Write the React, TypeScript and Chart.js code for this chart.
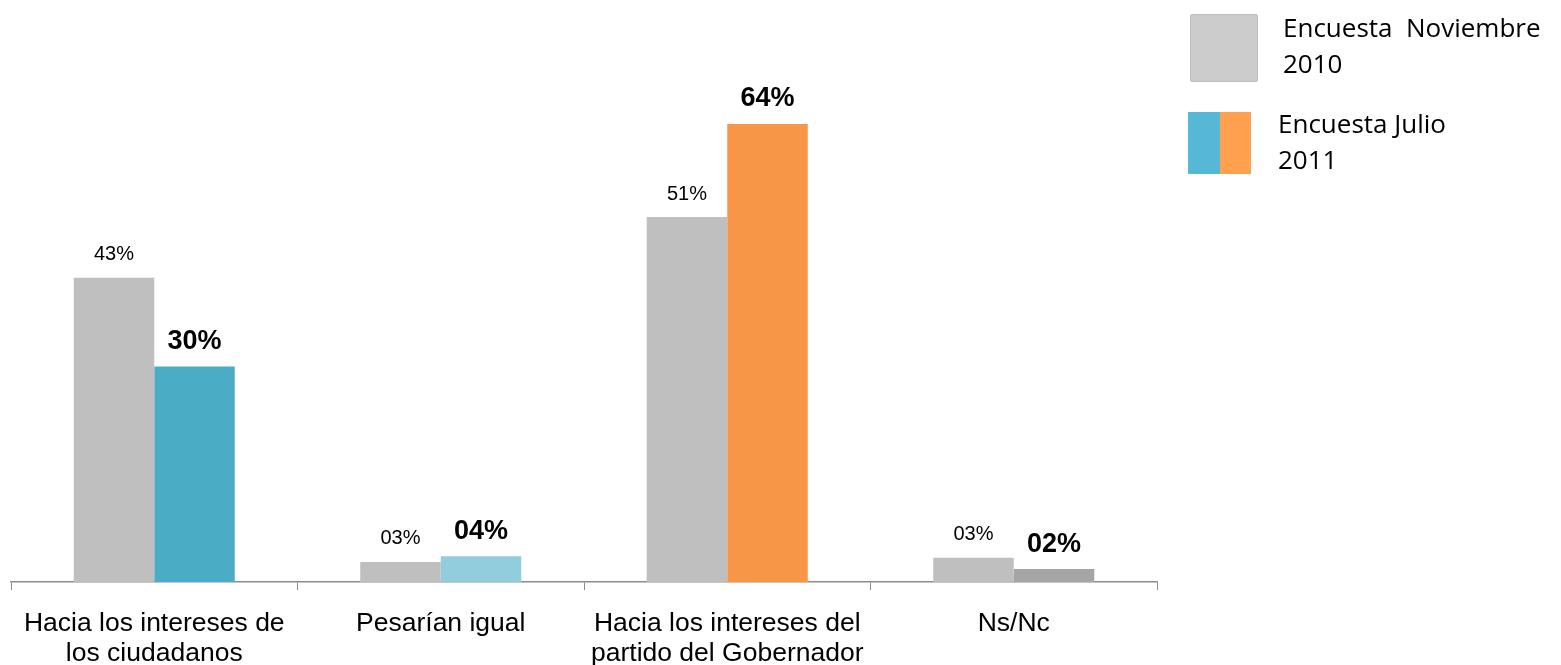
import React, { useEffect, useRef } from "react";
import { Chart, registerables } from "chart.js";

Chart.register(...registerables);

const categories: string[][] = [
  ["Hacia los intereses de", "los ciudadanos"],
  ["Pesarían igual"],
  ["Hacia los intereses del", "partido del Gobernador"],
  ["Ns/Nc"],
];
const nov2010Values = [42.5, 2.8, 51, 3.4];
const jul2011Values = [30.1, 3.6, 64, 1.8];
const nov2010Labels = ["43%", "03%", "51%", "03%"];
const jul2011Labels = ["30%", "04%", "64%", "02%"];
const jul2011Colors = ["#4BACC6", "#92CDDC", "#F79646", "#A5A5A5"];
const legendNov = ["Encuesta  Noviembre", "2010"];
const legendJul = ["Encuesta Julio", "2011"];

const FONT = "'Liberation Sans', Arial, sans-serif";

const labelPlugin = {
  id: "barLabels",
  afterDatasetsDraw(chart: any) {
    const ctx = chart.ctx;
    ctx.save();
    ctx.textAlign = "center";
    ctx.textBaseline = "middle";
    chart.data.datasets.forEach((ds: any, di: number) => {
      const meta = chart.getDatasetMeta(di);
      meta.data.forEach((bar: any, i: number) => {
        if (di === 0) {
          ctx.font = `20px ${FONT}`;
          ctx.fillStyle = "#000";
          ctx.fillText(nov2010Labels[i], bar.x, bar.y - 23);
        } else {
          ctx.font = `bold 27px ${FONT}`;
          ctx.fillStyle = "#000";
          ctx.fillText(jul2011Labels[i], bar.x, bar.y - 25);
        }
      });
    });
    ctx.restore();
  },
};

export default function App() {
  const ref = useRef<HTMLCanvasElement>(null);
  useEffect(() => {
    const chart = new Chart(ref.current!, {
      type: "bar",
      data: {
        labels: categories,
        datasets: [
          {
            label: "Encuesta Noviembre 2010",
            data: nov2010Values,
            backgroundColor: "#BFBFBF",
            categoryPercentage: 0.562,
            barPercentage: 1,
          },
          {
            label: "Encuesta Julio 2011",
            data: jul2011Values,
            backgroundColor: jul2011Colors,
            categoryPercentage: 0.562,
            barPercentage: 1,
          },
        ],
      },
      options: {
        animation: false,
        responsive: false,
        maintainAspectRatio: false,
        layout: { padding: { left: 11, right: 404, top: 81, bottom: -23 } },
        plugins: { legend: { display: false }, tooltip: { enabled: false } },
        scales: {
          y: { display: false, min: 0, max: 70 },
          x: {
            grid: {
              offset: true,
              drawOnChartArea: false,
              drawTicks: true,
              tickLength: 8,
              color: "#8C8C8C",
            },
            border: { color: "#8C8C8C", width: 1.5 },
            ticks: {
              color: "#000",
              padding: 19,
              font: { family: FONT, size: 26.5, lineHeight: "30px" },
              maxRotation: 0,
              autoSkip: false,
            },
          },
        },
      },
      plugins: [labelPlugin],
    });
    return () => chart.destroy();
  }, []);

  const legText: React.CSSProperties = {
    position: "absolute",
    fontFamily: "'Open Sans', 'Noto Sans', sans-serif",
    fontSize: 26,
    lineHeight: "36px",
    color: "#000",
    whiteSpace: "pre",
  };

  return (
    <div style={{ position: "absolute", left: 0, top: 0, width: 1561, height: 665, background: "#fff" }}>
      <canvas ref={ref} width={1561} height={665} style={{ position: "absolute", left: 0, top: 0 }} />
      <div
        style={{
          position: "absolute",
          left: 1190,
          top: 14,
          width: 66,
          height: 66,
          background: "#CCCCCC",
          border: "1px solid #BDBDBD",
          borderRadius: 2,
        }}
      />
      <div style={{ ...legText, left: 1283, top: 9 }}>
        {legendNov[0]}
        <br />
        {legendNov[1]}
      </div>
      <div style={{ position: "absolute", left: 1188, top: 112, width: 32, height: 62, background: "#56B8D5" }} />
      <div style={{ position: "absolute", left: 1220, top: 112, width: 31, height: 62, background: "#FFA04F" }} />
      <div style={{ ...legText, left: 1278, top: 105 }}>
        {legendJul[0]}
        <br />
        {legendJul[1]}
      </div>
    </div>
  );
}
